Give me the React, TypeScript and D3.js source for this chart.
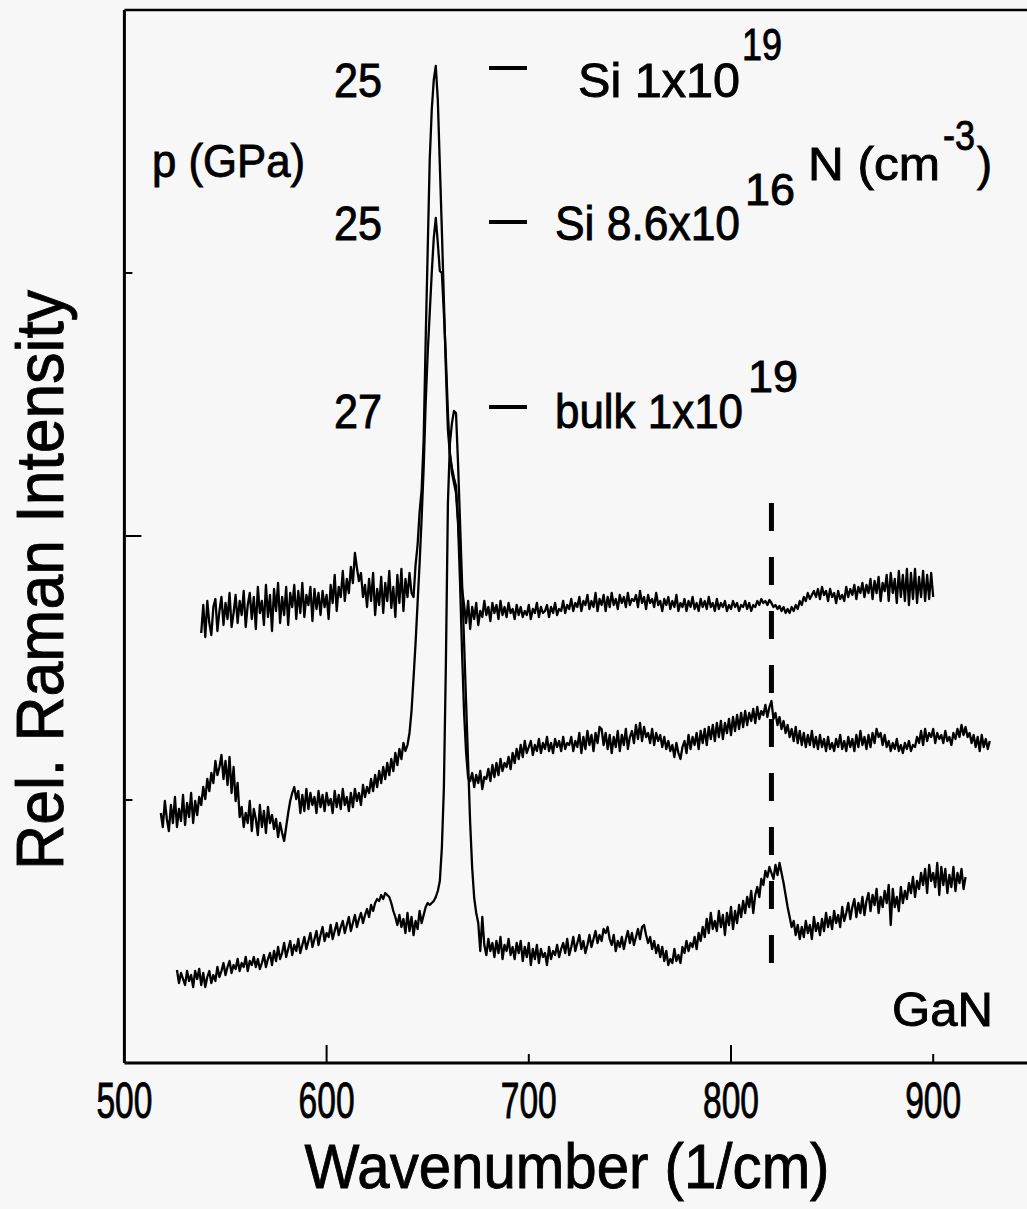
import React from 'react';
import * as d3 from 'd3';

const W = 1027;
const H = 1209;
const STEP = 1;

const xTicks = [500, 600, 700, 800, 900];
const xLongTicks = [600, 800];
const yTicks = [263, 527, 790];
const yLongTicks = [527];

// Si 1x10^19 (p = 25 GPa), from 538 cm-1 in steps of 1
const topStart = 538;
const topValues = [
  430, 458, 426, 462, 440, 428, 456, 464, 432, 452,
  466, 438, 460, 444, 470, 436, 450, 468, 440, 462,
  448, 472, 436, 458, 470, 444, 466, 434, 476, 450,
  462, 438, 478, 446, 468, 432, 474, 452, 480, 440,
  466, 448, 476, 438, 470, 456, 478, 444, 472, 450,
  480, 446, 468, 458, 476, 442, 474, 454, 470, 448,
  472, 456, 468, 444, 478, 460, 488, 452, 476, 466,
  492, 462, 484, 470, 496, 480, 510, 495, 482, 490,
  466, 478, 456, 484, 462, 490, 448, 474, 458, 486,
  450, 480, 462, 492, 455, 476, 446, 488, 460, 494,
  452, 484, 466, 490, 470,
  466, 498, 518, 551, 573, 623, 723, 813, 903, 953,
  983, 997, 963, 898, 833, 763, 693, 633, 608, 595,
  585, 577, 543, 508, 473,
  458, 440, 462, 434, 456, 444, 460, 438, 452, 446,
  462, 448, 456, 442, 460, 450, 458, 444, 462, 448,
  456, 446, 460, 450, 454, 444, 458, 448, 456, 446,
  452, 448, 458, 444, 454, 450, 460, 446, 456, 450,
  452, 458, 446, 456, 450, 460, 448, 454, 452, 462,
  450, 458, 454, 464, 452, 460, 456, 466, 452, 462,
  458, 468, 454, 462, 456, 470, 452, 464, 458, 468,
  452, 466, 456, 470, 458, 464, 454, 468, 460, 466,
  456, 470, 458, 464, 462, 468, 456, 472, 460, 466,
  454, 468, 460, 464, 456, 470, 458, 462, 452, 464,
  458, 466, 454, 462, 456, 468, 452, 460, 456, 464,
  452, 462, 456, 466, 454, 460, 452, 464, 456, 462,
  454, 466, 456, 460, 452, 464, 454, 460, 456, 462,
  452, 458, 454, 462, 456, 460, 452, 458, 456, 462,
  454, 460, 452, 458, 456, 462, 458, 464, 460, 462,
  458, 463, 460, 456, 458, 454, 457, 452, 456, 450,
  454, 450, 456, 452, 458, 454, 462, 458, 466, 462,
  470, 464, 468, 472, 466, 474, 464, 476, 468, 472,
  462, 474, 466, 470, 460, 472, 464, 468, 462, 476,
  466, 474, 468, 478, 464, 476, 470, 480, 466, 478,
  470, 484, 464, 482, 470, 486, 462, 480, 472, 488,
  462, 490, 470, 484, 460, 492, 466, 488, 462, 494,
  458, 490, 464, 494, 460, 486, 466, 492, 462, 488,
  464, 490, 466,
];

// Si 8.6x10^16 (p = 25 GPa), from 518 cm-1 in steps of 1
const midStart = 518;
const midValues = [
  250, 236, 262, 244, 232, 258, 240, 266, 236, 254,
  242, 268, 238, 260, 246, 270, 240, 262, 248, 266,
  258, 276, 264, 284, 272, 290, 280, 302, 288, 296,
  308, 284, 302, 278, 306, 270, 296, 262, 280, 246,
  256, 236, 250, 240, 262, 232, 254, 244, 228, 258,
  236, 252, 230, 256, 240, 248, 234, 244, 226, 240,
  230, 222, 236, 250, 262, 270, 276, 264, 272, 250,
  268, 252, 274, 254, 270, 258, 266, 250, 272, 256,
  268, 252, 270, 258, 264, 250, 272, 256, 268, 254,
  274, 258, 266, 252, 270, 256, 274, 262, 270, 258,
  278, 266, 276, 270, 284, 272, 288, 276, 292, 280,
  296, 284, 300, 288, 304, 292, 310, 298, 314, 304,
  320, 312,
  318, 330, 352, 385, 420, 460, 500, 545, 595, 660,
  710, 750, 790, 825, 845, 820, 792, 790, 750, 705,
  650, 610, 590, 580, 570, 540, 480, 410, 350, 310,
  285,
  282, 290, 276, 288, 280, 292, 274, 286, 284, 294,
  282, 298, 286, 300, 288, 304, 292, 300, 296, 306,
  294, 310, 300, 314, 304, 318, 306, 322, 310, 316,
  322, 308, 318, 312, 324, 310, 320, 314, 326, 312,
  320, 310, 324, 316, 322, 312, 326, 314, 320, 318,
  326, 312, 322, 316, 330, 310, 326, 314, 332, 318,
  328, 312, 330, 320, 336, 334, 318, 330, 314, 328,
  310, 326, 316, 332, 312, 328, 318, 334, 314, 326,
  332, 320, 338, 324, 340, 322, 336, 326, 330, 320,
  334, 318, 330, 322, 328, 316, 326, 314, 322, 312,
  318, 306, 320, 310, 304, 316, 322, 310, 328, 314,
  326, 318, 330, 314, 332, 320, 334, 318, 336, 324,
  338, 322, 340, 326, 342, 324, 340, 330, 344, 328,
  346, 332, 348, 334, 350, 336, 352, 338, 350, 342,
  354, 340, 356, 344, 352, 348, 358, 346, 356, 362,
  344, 350, 338, 346, 334, 342, 330, 338, 326, 334,
  322, 336, 320, 332, 318, 330, 316, 328, 318, 332,
  316, 326, 314, 328, 316, 324, 312, 326, 314, 320,
  312, 324, 316, 328, 314, 322, 312, 326, 316, 324,
  312, 328, 316, 332, 318, 326, 314, 328, 316, 330,
  320, 334, 326, 330, 318, 328, 316, 322, 312, 320,
  314, 324, 312, 318, 310, 320, 314, 322, 312, 318,
  316, 326, 320, 332, 318, 334, 322, 330, 326, 334,
  320, 330, 324, 328, 320, 332, 322, 326, 318, 330,
  324, 334, 326, 338, 328, 336, 326, 330, 320, 328,
  316, 326, 312, 328, 316, 324, 314, 322,
];

// bulk 1x10^19 (p = 27 GPa), from 526 cm-1 in steps of 1
const bulkStart = 526;
const bulkValues = [
  93, 80, 90, 84, 78, 92, 82, 88, 76, 92,
  84, 94, 78, 90, 76, 86, 92, 80, 88, 82,
  96, 86, 92, 100, 88, 96, 102, 90, 98, 94,
  104, 92, 100, 96, 106, 92, 102, 98, 106, 96,
  104, 94, 100, 108, 96, 104, 110, 98, 112, 102,
  116, 104, 110, 120, 106, 114, 122, 108, 118, 112,
  124, 110, 118, 126, 114, 122, 130, 116, 124, 132,
  118, 128, 136, 122, 130, 126, 138, 124, 132, 140,
  128, 136, 142, 130, 138, 146, 132, 140, 148, 136,
  144, 150, 140, 148, 154, 146, 158, 152, 160, 164,
  162, 168, 164, 170, 168, 166, 160, 152, 146, 138,
  148, 136, 144, 130, 150, 132, 146, 128, 142, 134,
  152, 140, 148, 156, 160, 158,
  160, 162, 166, 172, 182, 215, 275, 400, 560, 620,
  640, 652, 650, 600, 540, 480, 420, 360, 300, 240,
  195, 165, 150,
  140, 112, 146, 118, 108, 124, 112, 120, 106, 122,
  110, 126, 104, 118, 112, 124, 108, 116, 104, 120,
  110, 122, 102, 116, 106, 120, 98, 114, 104, 118,
  100, 114, 106, 110, 98, 116, 104, 112, 108, 118,
  106, 114, 120, 110, 124, 108, 116, 126, 112, 120,
  128, 114, 122, 110, 118, 128, 116, 124, 132, 120,
  128, 122, 134, 130, 136, 124, 118, 128, 112, 122,
  116, 126, 114, 124, 132, 120, 130, 118, 126, 134,
  124, 136, 138, 128, 120, 126, 114, 122, 110, 118,
  106, 116, 102, 112, 98, 104, 100, 114, 102, 108,
  100, 116, 110, 122, 112, 120, 116, 126, 114, 130,
  122, 136, 126, 144, 130, 150, 134, 142, 132, 152,
  136, 148, 128, 150, 138, 156, 134, 152, 140, 158,
  146, 162, 150, 166, 156, 172, 150, 168, 176, 166,
  184, 178, 192, 186, 196, 190, 184, 198, 188, 200,
  190, 180, 168, 156, 146, 136, 142, 128, 138, 124,
  136, 126, 142, 130, 138, 124, 146, 132, 140, 128,
  144, 132, 150, 136, 146, 134, 152, 140, 148, 136,
  156, 142, 150, 160, 144, 156, 164, 146, 160, 150,
  166, 148, 162, 170, 152, 168, 158, 174, 150, 166,
  156, 172, 160, 178, 138, 174, 156, 166, 152, 176,
  160, 172, 164, 180, 170, 186, 166, 182, 174, 190,
  178, 194, 170, 198, 182, 190, 176, 200, 168, 196,
  178, 194, 170, 188, 176, 196, 172, 190, 180, 194,
  174, 186,
];

const markerWn = 820;
const markerRange = [98, 560];

const pressures = ['25', '25', '27'];
const sampleNames = ['Si 1x10', 'Si 8.6x10', 'bulk 1x10'];
const sampleExps = ['19', '16', '19'];

const FONT = "'Liberation Sans', Arial, Helvetica, sans-serif";

function toPoints(start: number, vals: number[]): [number, number][] {
  return vals.map((v, i) => [start + i * STEP, v] as [number, number]);
}

type TxtProps = {
  x: number;
  y: number;
  size: number;
  len: number;
  anchor?: 'start' | 'middle' | 'end';
  transform?: string;
  children: React.ReactNode;
};

function Txt({ x, y, size, len, anchor = 'start', transform, children }: TxtProps) {
  return (
    <text
      x={x}
      y={y}
      fontSize={size}
      textLength={len}
      lengthAdjust="spacingAndGlyphs"
      textAnchor={anchor}
      transform={transform}
      fill="#000"
      stroke="#000"
      strokeWidth={0.9}
    >
      {children}
    </text>
  );
}

export default function App() {
  const x = d3.scaleLinear().domain([500, 950]).range([124.4, 1034.3]);
  const y = d3.scaleLinear().domain([0, 1053]).range([1063, 10]);
  const line = d3
    .line<[number, number]>()
    .x((d) => x(d[0]))
    .y((d) => y(d[1]));

  const series = [
    toPoints(topStart, topValues),
    toPoints(midStart, midValues),
    toPoints(bulkStart, bulkValues),
  ];

  const x0 = x(500);
  const x1 = x(950);
  const yTop = y(1053);
  const yBot = y(0);

  const legendY = [68, 222, 407];
  const baseY = [97, 240, 428];
  const nameX = [578, 555, 555];
  const nameLen = [162, 185, 188];
  const expX = [742, 745, 748];
  const expLen = [40, 50, 50];
  const expY = [60, 205, 392];

  return (
    <svg
      width={W}
      height={H}
      style={{ position: 'absolute', left: 0, top: 0, background: '#f7f7f7' }}
      fontFamily={FONT}
    >
      <rect x={0} y={0} width={W} height={H} fill="#f7f7f7" />
      {/* frame */}
      <line x1={x0} x2={x1} y1={yTop} y2={yTop} stroke="#000" strokeWidth={2.5} />
      <line x1={x0} x2={x0} y1={yTop} y2={yBot} stroke="#000" strokeWidth={3} />
      <line x1={x0} x2={x1} y1={yBot} y2={yBot} stroke="#000" strokeWidth={3} />
      {/* x ticks */}
      {xTicks.slice(1).map((t) => (
        <line
          key={'xt' + t}
          x1={x(t)}
          x2={x(t)}
          y1={yBot}
          y2={yBot - (xLongTicks.includes(t) ? 18 : 9)}
          stroke="#000"
          strokeWidth={2}
        />
      ))}
      {xTicks.map((t) => (
        <Txt key={'xl' + t} x={x(t)} y={1118} size={50} len={56} anchor="middle">
          {String(t)}
        </Txt>
      ))}
      {/* y ticks */}
      {yTicks.map((t) => (
        <line
          key={'yt' + t}
          x1={x0}
          x2={x0 + (yLongTicks.includes(t) ? 17 : 8)}
          y1={y(t)}
          y2={y(t)}
          stroke="#000"
          strokeWidth={2}
        />
      ))}
      {/* spectra */}
      {series.map((s, i) => (
        <path
          key={'s' + i}
          d={line(s) || ''}
          fill="none"
          stroke="#000"
          strokeWidth={2.3}
          strokeLinejoin="round"
        />
      ))}
      {/* dashed marker */}
      <line
        x1={x(markerWn)}
        x2={x(markerWn)}
        y1={y(markerRange[1])}
        y2={y(markerRange[0])}
        stroke="#000"
        strokeWidth={5}
        strokeDasharray="28 26"
      />
      {/* annotations */}
      {pressures.map((p, i) => (
        <Txt key={'p' + i} x={334} y={baseY[i]} size={48} len={48}>
          {p}
        </Txt>
      ))}
      {legendY.map((ly, i) => (
        <line key={'ld' + i} x1={489} x2={527} y1={ly} y2={ly} stroke="#000" strokeWidth={4} />
      ))}
      {sampleNames.map((n, i) => (
        <Txt key={'n' + i} x={nameX[i]} y={baseY[i]} size={48} len={nameLen[i]}>
          {n}
        </Txt>
      ))}
      {sampleExps.map((e, i) => (
        <Txt key={'e' + i} x={expX[i]} y={expY[i]} size={44} len={expLen[i]}>
          {e}
        </Txt>
      ))}
      <Txt x={152} y={177} size={47} len={153}>
        p (GPa)
      </Txt>
      <Txt x={808} y={180} size={47} len={132}>
        N (cm
      </Txt>
      <Txt x={943} y={150} size={42} len={32}>
        -3
      </Txt>
      <Txt x={977} y={180} size={47} len={15}>
        )
      </Txt>
      <Txt x={993} y={1026} size={48} len={101} anchor="end">
        GaN
      </Txt>
      <Txt x={567} y={1188} size={63} len={525} anchor="middle">
        Wavenumber (1/cm)
      </Txt>
      <Txt x={0} y={0} size={66} len={580} anchor="middle" transform="translate(63,580) rotate(-90)">
        Rel. Raman Intensity
      </Txt>
    </svg>
  );
}
